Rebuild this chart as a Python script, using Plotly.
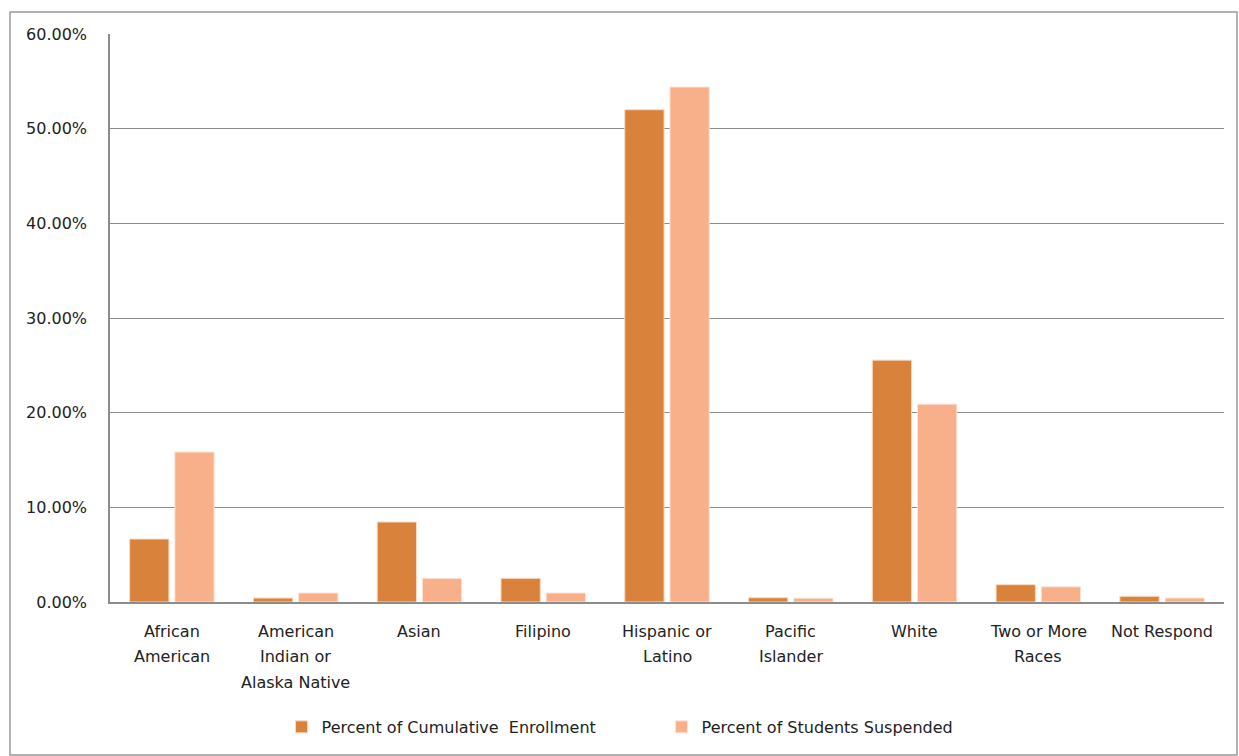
import plotly.graph_objects as go

categories = ["African<br>American", "American<br>Indian or<br>Alaska Native", "Asian", "Filipino",
              "Hispanic or<br>Latino", "Pacific<br>Islander", "White", "Two or More<br>Races", "Not Respond"]
enrollment = [0.0665, 0.0042, 0.0845, 0.025, 0.520, 0.0045, 0.2555, 0.0183, 0.006]
suspended = [0.1584, 0.0095, 0.025, 0.0095, 0.544, 0.004, 0.209, 0.016, 0.0042]
series_names = ["Percent of Cumulative  Enrollment", "Percent of Students Suspended"]
y_ticks = [0, 0.1, 0.2, 0.3, 0.4, 0.5, 0.6]

GRID = "#8c8c8c"
FONT = "DejaVu Sans"

fig = go.Figure()
fig.add_trace(go.Bar(x=categories, y=enrollment, name=series_names[0],
                     marker=dict(color="#D9823B", line=dict(color="#F9D9BF", width=1))))
fig.add_trace(go.Bar(x=categories, y=suspended, name=series_names[1],
                     marker=dict(color="#F7B089", line=dict(color="#FCE3D4", width=1))))

# multi-line category labels (each line placed separately for line spacing)
for cat in categories:
    for i, line in enumerate(cat.split("<br>")):
        fig.add_annotation(x=cat, xref="x", y=0, yref="paper", text=line, showarrow=False,
                           yanchor="middle", yshift=-29 - 25.5 * i,
                           font=dict(family=FONT, size=16, color="#222222"))

L, R, T, B = 110, 15, 34, 154
W, H = 1239, 756
pw, ph = W - L - R, H - T - B
fig.add_shape(type="rect", xref="paper", yref="paper",
              x0=(10 - L) / pw, x1=(1237 - L) / pw,
              y0=(H - B - 755) / ph, y1=(H - B - 12) / ph,
              line=dict(color="#999999", width=1.5), fillcolor="rgba(0,0,0,0)", layer="below")

fig.update_layout(
    width=W, height=H,
    margin=dict(l=L, r=R, t=T, b=B, pad=0),
    paper_bgcolor="white", plot_bgcolor="white",
    barmode="group", bargap=0.27, bargroupgap=0.13,
    font=dict(family=FONT, size=16, color="#222222"),
    showlegend=True,
    legend=dict(orientation="h", x=0.154, xanchor="left", y=-0.22, yanchor="middle",
                font=dict(family=FONT, size=16, color="#222222"),
                entrywidth=335, entrywidthmode="pixels", itemwidth=30,
                bgcolor="rgba(0,0,0,0)"),
    xaxis=dict(showticklabels=False, showline=True, linecolor=GRID, linewidth=1.5,
               ticks="", showgrid=False),
    yaxis=dict(range=[0, 0.6], tickvals=y_ticks, tickformat=".2%", showgrid=True,
               gridcolor=GRID, gridwidth=1, showline=True, linecolor=GRID, linewidth=1.5,
               zeroline=False, ticks="", ticklabelstandoff=18,
               tickfont=dict(family=FONT, size=16, color="#222222")),
)
fig.write_html("out.html")
